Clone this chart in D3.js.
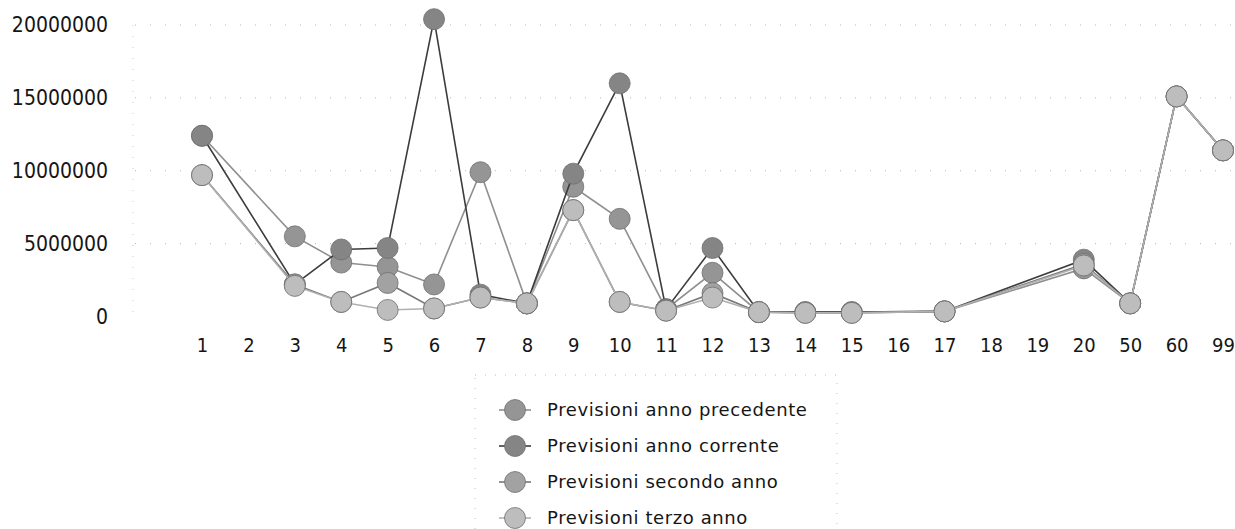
<!DOCTYPE html>
<html>
<head>
<meta charset="utf-8">
<script src="https://cdn.jsdelivr.net/npm/d3@7"></script>
<style>
  html, body { margin: 0; padding: 0; background: #fff; }
  svg { display: block; }
</style>
</head>
<body>
<svg id="chart" width="1235" height="529"></svg>
<script>
// ---- data ----
const categories = ["1","2","3","4","5","6","7","8","9","10","11","12","13","14","15","16","17","18","19","20","50","60","99"];
const seriesNames = ["Previsioni anno precedente","Previsioni anno corrente","Previsioni secondo anno","Previsioni terzo anno"];
const annoPrecedente = [12400000,null,5500000,3700000,3400000,2200000,9900000,900000,8900000,6700000,500000,3000000,300000,300000,300000,null,350000,null,null,3300000,900000,15100000,11400000];
const annoCorrente   = [12400000,null,2200000,4600000,4700000,20400000,1500000,900000,9800000,16000000,500000,4700000,300000,300000,300000,null,350000,null,null,3900000,900000,15100000,11400000];
const secondoAnno    = [9700000,null,2200000,1000000,2300000,550000,1300000,900000,7300000,1000000,400000,1600000,300000,250000,250000,null,350000,null,null,3600000,900000,15100000,11400000];
const terzoAnno      = [9700000,null,2100000,1000000,450000,550000,1300000,900000,7300000,1000000,400000,1300000,300000,250000,250000,null,350000,null,null,3500000,900000,15100000,11400000];
const yTicks = [0,5000000,10000000,15000000,20000000];

const seriesValues = [annoPrecedente, annoCorrente, secondoAnno, terzoAnno];
const lineColors   = ["#8f8f8f","#3c3c3c","#777777","#b0b0b0"];
const markerColors = ["#959595","#858585","#a2a2a2","#bdbdbd"];

const svg = d3.select("#chart");
const font = "'DejaVu Sans Condensed', 'DejaVu Sans', sans-serif";
const legendFont = "'DejaVu Sans', sans-serif";

const x = d3.scalePoint().domain(categories).range([202, 1223]);
const y = d3.scaleLinear().domain([0, 20000000]).range([316.5, 25]);

// gridlines (faint dotted)
svg.append("g").selectAll("line").data(yTicks.slice(1)).join("line")
  .attr("x1", 135).attr("x2", 1235)
  .attr("y1", d => y(d)).attr("y2", d => y(d))
  .attr("stroke", "#b5b5b5").attr("stroke-width", 1)
  .attr("stroke-dasharray", "1,14");

// faint y axis line
svg.append("line").attr("x1", 133).attr("x2", 133).attr("y1", y(20000000)).attr("y2", y(0))
  .attr("stroke", "#c8c8c8").attr("stroke-dasharray", "1,10");

// y axis labels
const yAxis = d3.axisLeft(y).tickValues(yTicks).tickSize(0).tickPadding(0).tickFormat(d3.format("d"));
const yg = svg.append("g").attr("transform", "translate(108,0)").call(yAxis);
yg.select(".domain").remove();
yg.selectAll("text").attr("font-family", font).attr("font-size", 21).attr("fill", "#151515");

// x axis labels
const xAxis = d3.axisBottom(x).tickSize(0).tickPadding(0);
const xg = svg.append("g").attr("transform", "translate(0,338)").call(xAxis);
xg.select(".domain").remove();
xg.selectAll("text").attr("font-family", font).attr("font-size", 20).attr("fill", "#151515");

// lines + markers
const line = d3.line().x(d => x(d.c)).y(d => y(d.v));
seriesValues.forEach((vals, i) => {
  const pts = categories.map((c, k) => ({c, v: vals[k]})).filter(d => d.v !== null);
  const g = svg.append("g");
  g.append("path").datum(pts).attr("d", line)
    .attr("fill", "none").attr("stroke", lineColors[i]).attr("stroke-width", 1.6);
  g.selectAll("circle").data(pts).join("circle")
    .attr("cx", d => x(d.c)).attr("cy", d => y(d.v)).attr("r", 10.5)
    .attr("fill", markerColors[i]).attr("stroke", "#6f6f6f").attr("stroke-width", 0.8);
});

// legend
const lg = svg.append("g");
lg.append("rect").attr("x", 475).attr("y", 375).attr("width", 362).attr("height", 160)
  .attr("fill", "none").attr("stroke", "#c0c0c0").attr("stroke-dasharray", "1,9");
seriesNames.forEach((name, i) => {
  const cy = 410 + i * 36;
  lg.append("line").attr("x1", 499).attr("x2", 531).attr("y1", cy).attr("y2", cy)
    .attr("stroke", lineColors[i]).attr("stroke-width", 1.6);
  lg.append("circle").attr("cx", 515).attr("cy", cy).attr("r", 10.5)
    .attr("fill", markerColors[i]).attr("stroke", "#6f6f6f").attr("stroke-width", 0.8);
  lg.append("text").attr("x", 547).attr("y", cy).attr("dy", "0.35em")
    .attr("font-family", legendFont).attr("font-size", 18).attr("letter-spacing", "0.6px")
    .attr("fill", "#151515").text(name);
});
</script>
</body>
</html>
